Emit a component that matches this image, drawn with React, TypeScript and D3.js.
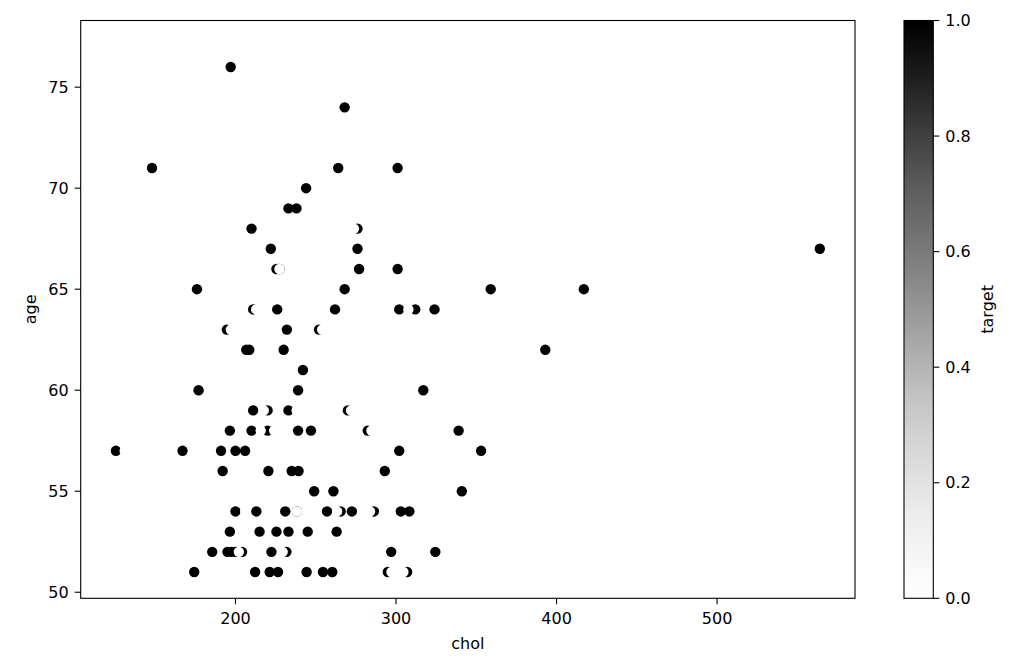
import React from "react";
import * as d3 from "d3";

// Points in draw order
const chol: number[] = [
  197, 268, 148, 264, 301, 244, 233, 238, 210, 276, 222, 276, 225.5, 227.4, 277, 301, 176, 268, 359, 417,
  211, 226, 262, 302, 312, 324, 194.6, 232, 252, 206.7, 208.6, 230, 393, 242, 177, 239, 317,
  211, 220, 233, 270, 196.5, 210, 220, 239, 247, 282.4, 339, 125.5, 167, 191, 200, 206, 302, 353,
  192, 220.5, 235, 239.3, 293, 249, 261, 341, 200, 213, 231, 238.3, 257, 265.5, 272.5, 286.2, 303, 308.3,
  196.5, 215, 225.5, 233, 245, 263, 185.5, 195, 197.5, 200.2, 204.1, 222.4, 231.7, 297, 324.5,
  174.3, 212.2, 221.3, 226.5, 244.3, 254.5, 260.3, 294.9, 306.9, 564,
  304, 273.8, 227.4, 212.9, 307.7, 197.1, 254, 217.6, 238.1, 272, 215.7, 224.1, 284.7, 131,
  206.1, 238.3, 263.3, 283.8, 202.1, 229.4, 297.2, 304.6,
];
const age: number[] = [
  76, 74, 71, 71, 71, 70, 69, 69, 68, 68, 67, 67, 66, 66, 66, 66, 65, 65, 65, 65,
  64, 64, 64, 64, 64, 64, 63, 63, 63, 62, 62, 62, 62, 61, 60, 60, 60,
  59, 59, 59, 59, 58, 58, 58, 58, 58, 58, 58, 57, 57, 57, 57, 57, 57, 57,
  56, 56, 56, 56, 56, 55, 55, 55, 54, 54, 54, 54, 54, 54, 54, 54, 54, 54,
  53, 53, 53, 53, 53, 53, 52, 52, 52, 52, 52, 52, 52, 52, 52,
  51, 51, 51, 51, 51, 51, 51, 51, 51, 67,
  77, 68, 66, 64, 64, 63, 63, 59, 59, 59, 58, 58, 58, 57,
  54, 54, 54, 54, 52, 52, 51, 51,
];
const target: number[] = [
  1, 1, 1, 1, 1, 1, 1, 1, 1, 1, 1, 1, 1, 1, 1, 1, 1, 1, 1, 1,
  1, 1, 1, 1, 1, 1, 1, 1, 1, 1, 1, 1, 1, 1, 1, 1, 1,
  1, 1, 1, 1, 1, 1, 1, 1, 1, 1, 1, 1, 1, 1, 1, 1, 1, 1,
  1, 1, 1, 1, 1, 1, 1, 1, 1, 1, 1, 1, 1, 1, 1, 1, 1, 1,
  1, 1, 1, 1, 1, 1, 1, 1, 1, 1, 1, 1, 1, 1, 1,
  1, 1, 1, 1, 1, 1, 1, 1, 1, 1,
  0, 0, 0, 0, 0, 0, 0, 0, 0, 0, 0, 0, 0, 0,
  0, 0, 0, 0, 0, 0, 0, 0,
];

const xTicks = [200, 300, 400, 500];
const yTicks = [50, 55, 60, 65, 70, 75];
const cbTicks = [0, 0.2, 0.4, 0.6, 0.8, 1.0];

const W = 1012;
const H = 663;
const L = 80.7, T = 20.5, R = 855, B = 598.3;
const CBL = 904, CBR = 933.3;
const FONT = "'DejaVu Sans', sans-serif";
const FS = 16;

export default function App() {
  const n = chol.length;
  const cx = d3.extent(chol) as [number, number];
  const cy = d3.extent(age) as [number, number];
  const px = (cx[1] - cx[0]) * 0.05;
  const py = (cy[1] - cy[0]) * 0.05;
  const x = d3.scaleLinear().domain([cx[0] - px, cx[1] + px]).range([L, R]);
  const y = d3.scaleLinear().domain([cy[0] - py, cy[1] + py]).range([B, T]);
  const cb = d3.scaleLinear().domain([0, 1]).range([B, T]);
  const color = (t: number) => d3.interpolateGreys(t);
  const stops = d3.range(0, 1.0001, 0.05);

  return (
    <svg width={W} height={H} style={{ position: "absolute", left: 0, top: 0, background: "#fff" }}
      fontFamily={FONT}>
      <defs>
        <linearGradient id="cbg" x1="0" y1="1" x2="0" y2="0">
          {stops.map((s) => (
            <stop key={s} offset={s} stopColor={color(s)} />
          ))}
        </linearGradient>
      </defs>
      <rect x={0} y={0} width={W} height={H} fill="#fff" />
      {d3.range(n).map((i) => (
        <circle key={i} cx={x(chol[i])} cy={y(age[i])} r={5.2} fill={color(target[i])} />
      ))}
      <rect x={L} y={T} width={R - L} height={B - T} fill="none" stroke="#000" strokeWidth={1.1} />
      {xTicks.map((t) => (
        <g key={t}>
          <line x1={x(t)} x2={x(t)} y1={B} y2={B + 6} stroke="#000" strokeWidth={1.1} />
          <text x={x(t)} y={B + 26} fontSize={FS} textAnchor="middle" fill="#000">{t}</text>
        </g>
      ))}
      {yTicks.map((t) => (
        <g key={t}>
          <line x1={L - 6} x2={L} y1={y(t)} y2={y(t)} stroke="#000" strokeWidth={1.1} />
          <text x={L - 12} y={y(t)} fontSize={FS} textAnchor="end" dominantBaseline="central" fill="#000">{t}</text>
        </g>
      ))}
      <text x={(L + R) / 2} y={649} fontSize={FS} textAnchor="middle" fill="#000">chol</text>
      <text transform={`translate(30,${(T + B) / 2}) rotate(-90)`} fontSize={FS} textAnchor="middle"
        dominantBaseline="central" fill="#000">age</text>
      <rect x={CBL} y={T} width={CBR - CBL} height={B - T} fill="url(#cbg)" stroke="#000" strokeWidth={1.1} />
      {cbTicks.map((t) => (
        <g key={t}>
          <line x1={CBR} x2={CBR + 6} y1={cb(t)} y2={cb(t)} stroke="#000" strokeWidth={1.1} />
          <text x={CBR + 12} y={cb(t)} fontSize={FS} dominantBaseline="central" fill="#000">{t.toFixed(1)}</text>
        </g>
      ))}
      <text transform={`translate(987,${(T + B) / 2}) rotate(-90)`} fontSize={FS} textAnchor="middle"
        dominantBaseline="central" fill="#000">target</text>
    </svg>
  );
}
